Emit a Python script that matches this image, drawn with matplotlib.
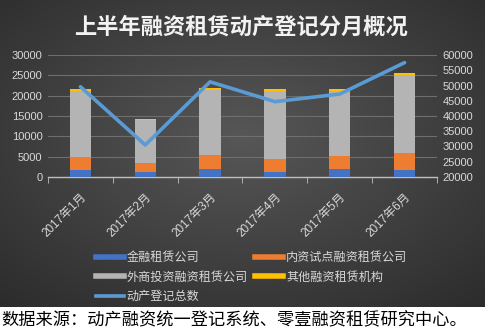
import numpy as np
import matplotlib
matplotlib.use("Agg")
import matplotlib.pyplot as plt
from matplotlib.lines import Line2D

plt.rcParams['font.family'] = ['Liberation Sans', 'Noto Sans CJK SC', 'DejaVu Sans']

months = ["2017年1月", "2017年2月", "2017年3月", "2017年4月", "2017年5月", "2017年6月"]
financial_leasing = [1700, 1300, 1900, 1300, 1900, 1700]
domestic_pilot = [3100, 2200, 3500, 3200, 3250, 4300]
foreign_invested = [16400, 10400, 16100, 16700, 16000, 19200]
other_institutions = [350, 350, 370, 400, 450, 400]
total_registrations = [49600, 30500, 51200, 44700, 47200, 57500]

series_names = ["金融租赁公司", "内资试点融资租赁公司", "外商投资融资租赁公司", "其他融资租赁机构"]
line_name = "动产登记总数"
title = "上半年融资租赁动产登记分月概况"
source = "数据来源：动产融资统一登记系统、零壹融资租赁研究中心。"

colors = ["#4472C4", "#ED7D31", "#B4B4B4", "#FFC000"]
line_color = "#5B9BD5"
tick_color = "#D9D9D9"

W, H = 487, 336
fig = plt.figure(figsize=(W / 100, H / 100), dpi=100)
fig.patch.set_facecolor("white")

# dark radial-gradient panel behind the chart
bg = fig.add_axes([0, 1 - 307 / H, 485 / W, 307 / H], zorder=-10)
yy, xx = np.mgrid[0:1:200j, 0:1:300j]
r = np.sqrt(((xx - 0.5) / 0.75) ** 2 + ((yy - 0.45) / 0.75) ** 2)
g = np.clip(0.34 - 0.17 * r, 0.17, 0.34)
bg.imshow(np.dstack([g, g, g]), aspect="auto", extent=[0, 1, 0, 1])
bg.set_axis_off()

ax = fig.add_axes([48 / W, 1 - 177 / H, (437 - 48) / W, 122 / H])
ax.set_facecolor("none")
x = np.arange(len(months))
bottom = np.zeros(len(months))
for vals, c in zip([financial_leasing, domestic_pilot, foreign_invested, other_institutions], colors):
    ax.bar(x, vals, 0.33, bottom=bottom, color=c, zorder=3)
    bottom += np.array(vals)

ax.set_ylim(0, 30000)
ax.set_yticks(np.arange(0, 30001, 5000))
ax.set_xlim(-0.5, len(months) - 0.5)
ax.set_xticks(x)
ax.set_xticklabels(months, rotation=45, ha="right", rotation_mode="anchor",
                   fontsize=8.5, color=tick_color)
ax.set_xticks(np.arange(-0.5, len(months)), minor=True)
ax.tick_params(axis="x", which="major", length=0, pad=10)
ax.tick_params(axis="x", which="minor", length=4, color="#BFBFBF", direction="out")
ax.tick_params(axis="y", length=0, labelsize=8, labelcolor=tick_color, pad=4)
ax.grid(axis="y", color="#6E6E6E", linewidth=0.8, zorder=0)
for s in ["top", "right", "left"]:
    ax.spines[s].set_visible(False)
ax.spines["bottom"].set_color("#BFBFBF")
ax.spines["bottom"].set_linewidth(1.0)

ax2 = ax.twinx()
ax2.plot(x, total_registrations, color=line_color, linewidth=2.6, zorder=5,
         solid_capstyle="round")
ax2.set_ylim(20000, 60000)
ax2.set_yticks(np.arange(20000, 60001, 5000))
ax2.tick_params(axis="y", length=0, labelsize=8, labelcolor=tick_color, pad=4)
for s in ["top", "right", "left", "bottom"]:
    ax2.spines[s].set_visible(False)

fig.text(241 / W, 1 - 27 / H, title, ha="center", va="center", fontsize=16,
         fontweight="bold", color="#F2F2F2", family=["Noto Sans CJK SC"])

handles = [Line2D([0], [0], color=c, linewidth=4) for c in colors]
handles.append(Line2D([0], [0], color=line_color, linewidth=2.6))
labels = series_names + [line_name]
order = [0, 2, 4, 1, 3]
leg = fig.legend([handles[i] for i in order], [labels[i] for i in order], ncol=2,
                 loc="upper left", bbox_to_anchor=(85 / W, 1 - 240 / H),
                 frameon=False, handlelength=2.3, handletextpad=0.25,
                 columnspacing=0.6, labelspacing=0.55,
                 prop={"family": ["Noto Sans CJK SC"], "size": 8.7})
for t in leg.get_texts():
    t.set_color(tick_color)

fig.text(1 / W, 1 - 320 / H, source, ha="left", va="center", fontsize=12.4,
         color="black", family=["Noto Sans CJK SC"])

fig.savefig("out.png", dpi=100)
